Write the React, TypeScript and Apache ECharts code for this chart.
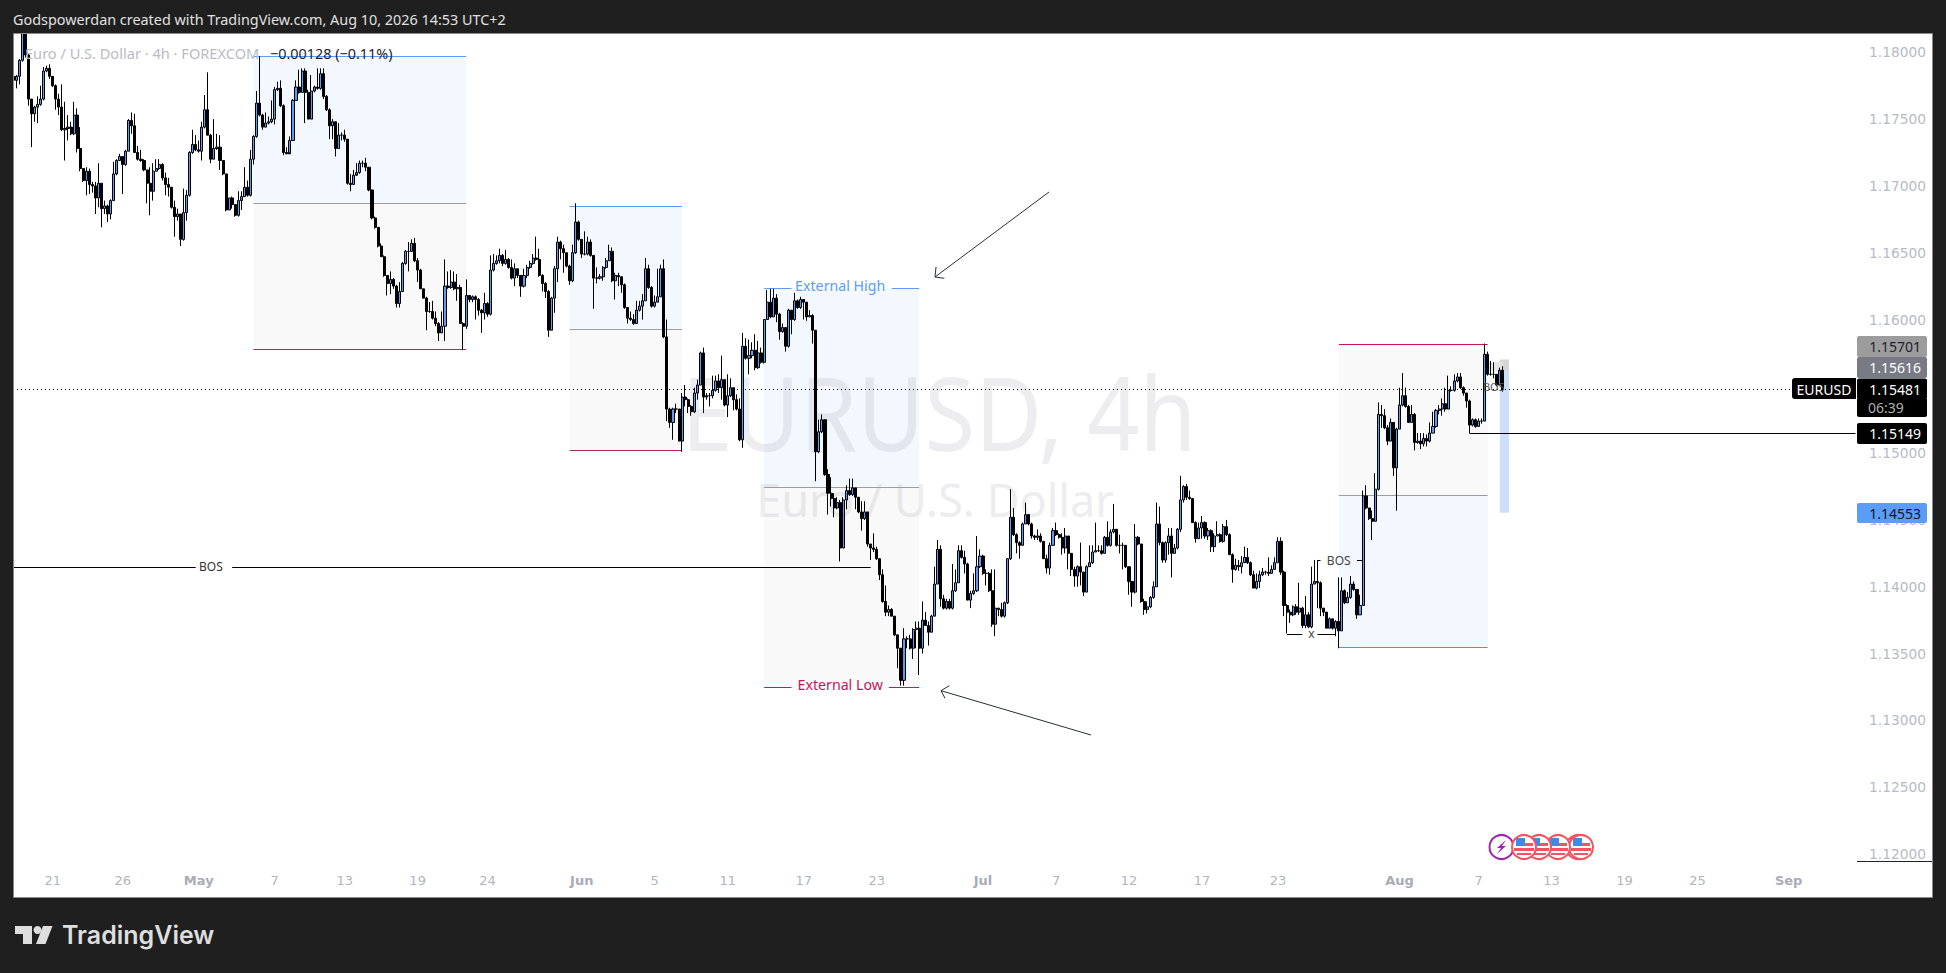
import React, { useEffect, useRef } from "react";
import * as echarts from "echarts";

// Prices below are in 1/10000 units (11548.1 = 1.15481)
const PRICE_UNIT = 10000;
const firstOpen = 11782;
const closes = [
11779,11782,11794,11818,11798,11765,11754,11759,11761,11765,
11786,11788,11782,11775,11765,11759,11742,11743,11744,11739,
11753,11728,11713,11704,11711,11701,11700,11691,11702,11683,
11685,11679,11689,11709,11719,11722,11716,11726,11749,11745,
11725,11720,11719,11712,11702,11696,11711,11713,11716,11706,
11701,11699,11684,11677,11679,11660,11680,11693,11725,11731,
11727,11726,11744,11757,11738,11720,11728,11729,11719,11709,
11682,11691,11686,11678,11689,11692,11699,11693,11720,11737,
11762,11753,11744,11747,11748,11750,11772,11773,11760,11725,
11724,11734,11764,11774,11770,11786,11770,11750,11771,11774,
11773,11784,11767,11757,11745,11748,11728,11738,11738,11735,
11702,11701,11708,11710,11717,11717,11714,11697,11676,11669,
11655,11647,11633,11627,11630,11625,11612,11621,11642,11651,
11651,11657,11644,11637,11623,11616,11606,11606,11601,11597,
11590,11595,11625,11624,11628,11623,11624,11597,11595,11618,
11615,11617,11615,11607,11605,11612,11604,11637,11642,11644,
11648,11642,11645,11639,11631,11638,11633,11625,11633,11639,
11642,11646,11645,11633,11627,11621,11592,11616,11638,11658,
11653,11650,11640,11629,11650,11673,11660,11649,11649,11658,
11648,11631,11631,11632,11639,11644,11651,11629,11633,11632,
11626,11609,11601,11600,11597,11607,11610,11614,11638,11624,
11610,11613,11617,11638,11587,11533,11523,11533,11533,11509,
11542,11540,11535,11531,11545,11551,11575,11542,11543,11543,
11547,11554,11549,11555,11536,11543,11549,11540,11533,11510,
11580,11571,11573,11577,11564,11575,11568,11600,11613,11602,
11616,11604,11591,11594,11580,11607,11600,11614,11609,11615,
11613,11602,11603,11592,11501,11516,11525,11484,11470,11466,
11459,11463,11429,11465,11472,11469,11474,11467,11456,11451,
11456,11432,11429,11428,11421,11409,11389,11381,11383,11378,
11364,11354,11330,11361,11361,11354,11368,11369,11354,11375,
11371,11366,11378,11402,11428,11391,11384,11389,11384,11397,
11403,11427,11422,11417,11390,11395,11397,11415,11423,11410,
11410,11397,11372,11384,11383,11378,11388,11421,11452,11439,
11433,11431,11447,11454,11447,11438,11437,11438,11434,11421,
11414,11431,11442,11439,11437,11429,11438,11425,11413,11408,
11415,11411,11396,11415,11418,11426,11427,11427,11425,11437,
11431,11441,11443,11431,11431,11431,11415,11404,11396,11437,
11432,11389,11383,11385,11392,11400,11447,11433,11420,11433,
11438,11425,11429,11443,11465,11475,11467,11466,11448,11436,
11444,11448,11438,11442,11430,11438,11439,11434,11445,11439,
11424,11413,11416,11415,11418,11422,11418,11409,11399,11404,
11409,11411,11411,11410,11413,11418,11434,11411,11386,11381,
11379,11385,11381,11384,11371,11379,11370,11402,11404,11403,
11384,11381,11369,11376,11369,11374,11367,11397,11388,11392,
11402,11398,11379,11386,11468,11459,11451,11449,11473,11529,
11528,11519,11509,11523,11489,11518,11536,11543,11535,11523,
11529,11508,11509,11507,11511,11509,11515,11520,11532,11533,
11537,11533,11547,11547,11554,11557,11549,11545,11539,11521,
11525,11520,11524,11524,11574,11559,11559,11559,11551,11562,
11548.1,
];
const highs = [
11783,11783,11795,11826,11826,11799,11765,11760,11767,11775,
11789,11790,11791,11782,11776,11769,11776,11763,11753,11748,
11763,11758,11744,11713,11714,11713,11703,11703,11717,11702,
11689,11686,11690,11718,11720,11724,11722,11727,11750,11755,
11754,11730,11727,11720,11712,11714,11717,11720,11720,11717,
11710,11706,11699,11689,11683,11679,11698,11697,11726,11742,
11738,11734,11748,11768,11785,11739,11750,11739,11738,11719,
11709,11691,11692,11686,11696,11696,11714,11704,11727,11738,
11771,11797,11754,11755,11752,11764,11774,11778,11779,11761,
11729,11737,11765,11779,11787,11788,11788,11772,11783,11775,
11788,11788,11788,11768,11758,11750,11747,11747,11740,11742,
11735,11709,11712,11717,11719,11719,11721,11712,11697,11677,
11669,11657,11648,11633,11636,11631,11626,11628,11643,11652,
11658,11660,11661,11646,11638,11623,11617,11613,11614,11606,
11598,11606,11645,11636,11637,11636,11634,11626,11598,11630,
11618,11618,11618,11616,11608,11620,11613,11648,11649,11648,
11653,11649,11652,11646,11645,11642,11638,11633,11638,11641,
11644,11649,11662,11653,11634,11628,11622,11617,11640,11662,
11659,11656,11650,11641,11656,11687,11674,11660,11666,11662,
11660,11648,11639,11634,11640,11646,11656,11654,11635,11635,
11629,11627,11609,11606,11604,11614,11614,11619,11646,11641,
11625,11618,11638,11641,11645,11600,11534,11534,11537,11532,
11545,11551,11541,11536,11549,11555,11576,11579,11545,11545,
11558,11558,11559,11573,11555,11559,11556,11549,11544,11541,
11590,11586,11585,11583,11589,11584,11579,11600,11622,11623,
11623,11619,11605,11597,11594,11608,11607,11620,11615,11617,
11615,11612,11607,11604,11592,11525,11529,11525,11488,11482,
11470,11467,11465,11467,11476,11481,11481,11474,11467,11464,
11464,11456,11432,11440,11430,11421,11413,11401,11386,11384,
11378,11364,11354,11369,11363,11364,11369,11374,11374,11389,
11381,11374,11379,11415,11435,11431,11394,11391,11391,11417,
11413,11431,11431,11427,11418,11397,11410,11438,11428,11424,
11413,11411,11413,11413,11384,11388,11389,11421,11473,11459,
11440,11434,11448,11463,11454,11448,11439,11443,11440,11434,
11424,11433,11444,11448,11440,11440,11444,11438,11425,11415,
11416,11433,11411,11416,11431,11431,11448,11431,11431,11438,
11449,11443,11462,11443,11439,11433,11431,11415,11404,11447,
11438,11432,11391,11389,11393,11404,11463,11460,11434,11434,
11444,11444,11432,11444,11483,11476,11477,11472,11466,11449,
11448,11453,11449,11444,11443,11440,11449,11440,11447,11450,
11440,11425,11421,11420,11423,11430,11429,11419,11412,11410,
11412,11414,11412,11422,11416,11422,11437,11437,11412,11387,
11383,11386,11387,11403,11385,11393,11381,11415,11420,11420,
11404,11384,11381,11377,11376,11375,11407,11407,11398,11396,
11408,11404,11398,11394,11472,11476,11459,11457,11485,11538,
11536,11533,11521,11526,11523,11519,11549,11560,11549,11536,
11536,11530,11515,11515,11515,11514,11523,11531,11533,11536,
11541,11549,11558,11550,11559,11560,11560,11550,11545,11540,
11526,11526,11526,11526,11582,11576,11569,11568,11559,11564,
11565,
];
const lows = [
11778,11773,11776,11793,11796,11760,11729,11748,11747,11760,
11764,11785,11780,11774,11757,11753,11741,11719,11734,11738,
11738,11725,11711,11703,11693,11694,11695,11679,11684,11669,
11679,11673,11675,11689,11708,11719,11694,11715,11726,11739,
11725,11719,11718,11711,11687,11678,11689,11711,11712,11704,
11693,11692,11683,11662,11674,11655,11659,11674,11692,11724,
11726,11725,11719,11743,11738,11717,11720,11727,11712,11708,
11681,11682,11683,11677,11677,11682,11692,11692,11692,11716,
11736,11752,11742,11744,11746,11747,11746,11771,11759,11723,
11724,11725,11734,11764,11769,11770,11747,11750,11750,11770,
11772,11772,11765,11756,11735,11735,11722,11728,11734,11733,
11701,11696,11701,11709,11709,11714,11711,11696,11675,11668,
11654,11647,11632,11618,11619,11623,11609,11609,11621,11641,
11636,11651,11643,11628,11623,11616,11592,11605,11600,11595,
11584,11590,11584,11623,11623,11622,11614,11597,11577,11593,
11613,11613,11600,11603,11590,11600,11602,11603,11636,11641,
11642,11640,11641,11638,11630,11625,11631,11617,11624,11631,
11638,11641,11644,11632,11621,11616,11587,11592,11605,11628,
11645,11635,11639,11626,11628,11649,11659,11646,11648,11648,
11647,11608,11627,11630,11629,11638,11644,11628,11615,11625,
11620,11608,11597,11599,11596,11597,11606,11600,11614,11623,
11609,11609,11613,11617,11586,11524,11519,11510,11530,11509,
11501,11535,11530,11528,11530,11540,11551,11530,11540,11535,
11541,11546,11545,11540,11535,11527,11542,11532,11532,11509,
11504,11570,11559,11571,11562,11563,11567,11567,11600,11601,
11602,11598,11585,11590,11576,11579,11589,11599,11608,11608,
11600,11599,11602,11582,11479,11500,11515,11483,11454,11460,
11452,11458,11419,11429,11458,11468,11468,11458,11455,11442,
11450,11430,11420,11426,11420,11405,11388,11378,11378,11378,
11363,11339,11326,11326,11354,11353,11346,11354,11334,11350,
11371,11356,11366,11378,11402,11385,11383,11383,11383,11383,
11396,11403,11421,11410,11390,11384,11394,11396,11414,11409,
11401,11396,11370,11363,11378,11377,11377,11387,11420,11438,
11425,11421,11431,11447,11446,11436,11435,11435,11433,11421,
11410,11409,11431,11438,11436,11424,11425,11413,11408,11400,
11400,11401,11393,11396,11415,11417,11426,11426,11424,11425,
11430,11430,11440,11430,11425,11413,11414,11394,11385,11395,
11431,11388,11379,11380,11384,11391,11400,11431,11418,11418,
11424,11407,11425,11428,11441,11463,11465,11465,11448,11433,
11436,11436,11436,11435,11426,11426,11438,11433,11433,11438,
11424,11403,11412,11412,11410,11418,11417,11408,11399,11398,
11399,11408,11409,11408,11410,11413,11418,11409,11378,11365,
11373,11378,11379,11379,11369,11369,11369,11369,11402,11384,
11378,11378,11369,11369,11368,11363,11354,11367,11387,11388,
11391,11397,11376,11379,11386,11458,11450,11435,11449,11472,
11519,11518,11506,11509,11483,11457,11518,11535,11534,11523,
11523,11502,11507,11503,11505,11505,11508,11515,11519,11529,
11528,11531,11535,11546,11546,11553,11548,11543,11534,11515,
11520,11519,11520,11522,11524,11558,11558,11556,11550,11551,
11546,
];

const timeTickIndex = [13,36,61,86,109,133,156,187,211,235,260,284,319,343,367,391,416,456,482,506,530,554,584];
const timeTickLabels = ["21","26","May","7","13","19","24","Jun","5","11","17","23","Jul","7","12","17","23","Aug","7","13","19","25","Sep"];
const monthLabels = ["May", "Jun", "Jul", "Aug", "Sep"];
const categoryCount = 607;

const BLUE_ZONE = "rgba(91,156,246,0.075)";
const GREY_ZONE = "rgba(120,123,134,0.048)";
// Filled zones: start, end, top price, bottom price, colour
const zoneStart = [79, 79, 183, 183, 247, 247, 436, 436, 489, 489, 489, 485];
const zoneEnd = [149, 149, 220, 220, 298, 298, 485, 485, 492, 492, 492, 490];
const zoneTop = [11797, 11687, 11685, 11593, 11623.5, 11475, 11582, 11469, 11570.1, 11561.6, 11561.6, 11568];
const zoneBottom = [11687, 11578, 11593, 11502, 11475, 11325, 11469, 11355, 11561.6, 11548.1, 11455.3, 11561.6];
const zoneFill = [BLUE_ZONE, GREY_ZONE, BLUE_ZONE, GREY_ZONE, BLUE_ZONE, GREY_ZONE, GREY_ZONE, BLUE_ZONE, "#d6d6d6", "#a9cdfa", "#cce0fb", "#e4e4e4"];

// Horizontal level lines: start, end, price, colour
const lineStart = [79, 79, 79, 183, 183, 183, 247, 289, 247, 247, 288, 436, 436, 436, 479, 0, 0, 72, 429, 442, 419, 429];
const lineEnd = [149, 149, 149, 220, 220, 220, 256, 298, 298, 256, 298, 485, 485, 485, 606, 585, 60, 282, 430, 444, 424, 435];
const linePrice = [11797, 11687, 11578, 11685, 11593, 11502, 11623.5, 11623.5, 11475, 11325, 11325, 11582, 11469, 11355, 11514.9, 11548.1, 11415, 11415, 11420, 11420, 11365, 11365];
const lineColor = ["#5b9cf6", "#9e9e9e", "#b2275f", "#5b9cf6", "#9e9e9e", "#b2275f", "#5b9cf6", "#5b9cf6", "#9e9e9e", "#c2185b", "#c2185b", "#c2185b", "#9e9e9e", "#5b8de0", "#000000", "#000000", "#000000", "#000000", "#000000", "#000000", "#000000", "#000000"];
const dottedLine = 15;

// Text annotations
const noteText = ["External High", "External Low", "BOS", "BOS", "x", "BOS"];
const noteIndex = [272, 272, 65, 436, 427, 487];
const notePrice = [11625.5, 11327, 11415, 11420, 11365, 11550];
const noteColor = ["#5b9cf6", "#c2185b", "#333333", "#444444", "#444444", "#555555"];
const noteSize = [14.2, 14.2, 12, 12, 12, 11];

const priceTagText = ["1.15701", "1.15616", "1.15481", "1.15149", "1.14553"];
const priceTagCenter = [346.5, 367.5, 389, 433.5, 513];
const priceTagHeight = [21, 21, 21, 21, 20];
const priceTagFill = ["#9c9c9c", "#787b86", "#000000", "#000000", "#5b9cf6"];
const priceTagInk = ["#1e222d", "#ffffff", "#ffffff", "#ffffff", "#131722"];

const FONT = '"Noto Sans", sans-serif';
const AXIS_FONT = '"DejaVu Sans", sans-serif';

export default function App() {
  const ref = useRef<HTMLDivElement | null>(null);
  useEffect(() => {
    if (!ref.current) return;
    const chart = echarts.init(ref.current, null, { renderer: "svg", width: 1946, height: 973 });
    const candles = closes.map((c, i) => [
      (i === 0 ? firstOpen : closes[i - 1]) / PRICE_UNIT,
      c / PRICE_UNIT,
      lows[i] / PRICE_UNIT,
      highs[i] / PRICE_UNIT,
    ]);
    const categories = Array.from({ length: categoryCount }, (_, i) => {
      const k = timeTickIndex.indexOf(i);
      return k >= 0 ? timeTickLabels[k] : "";
    });
    const dark = "#1f1f1f";
    const flags = [1578, 1581, 1558, 1539, 1524];
    const flagElements: any[] = [];
    flags.forEach((cx) => {
      const cy = 847;
      flagElements.push(
        { type: "circle", z: 40, shape: { cx, cy, r: 12 }, style: { fill: "#ffffff" } },
        { type: "rect", z: 40, shape: { x: cx - 8, y: cy - 9, width: 9, height: 8 }, style: { fill: "#3d8be8" } },
        { type: "rect", z: 40, shape: { x: cx + 1, y: cy - 4, width: 8, height: 3 }, style: { fill: "#f7525f" } },
        { type: "rect", z: 40, shape: { x: cx - 10, y: cy + 1, width: 20, height: 3 }, style: { fill: "#f7525f" } },
        { type: "rect", z: 40, shape: { x: cx - 7, y: cy + 6, width: 14, height: 2 }, style: { fill: "#f7525f" } },
        { type: "circle", z: 40, shape: { cx, cy, r: 12 }, style: { fill: "none", stroke: "#f7525f", lineWidth: 2 } }
      );
    });
    const tagElements: any[] = [];
    priceTagText.forEach((t, k) => {
      const h = priceTagHeight[k];
      tagElements.push(
        { type: "rect", z: 60, shape: { x: 1857, y: priceTagCenter[k] - h / 2, width: 70, height: h, r: 2 }, style: { fill: priceTagFill[k] } },
        { type: "text", z: 61, style: { text: t, x: 1921, y: priceTagCenter[k], align: "right", verticalAlign: "middle", fill: priceTagInk[k], font: `14px ${FONT}` } }
      );
    });
    chart.setOption({
      animation: false,
      backgroundColor: "transparent",
      grid: { left: 11.78, width: 1845.28, top: 0, height: 920.8, containLabel: false, show: false },
      xAxis: {
        type: "category",
        data: categories,
        boundaryGap: true,
        axisLine: { show: false },
        axisTick: { show: false },
        splitLine: { show: false },
        axisLabel: {
          show: true,
          inside: true,
          margin: 34,
          interval: (i: number) => timeTickIndex.indexOf(i) >= 0,
          hideOverlap: false,
          color: "#b2b5be",
          fontFamily: AXIS_FONT,
          fontSize: 13,
          formatter: (v: string) => (monthLabels.indexOf(v) >= 0 ? `{b|${v}}` : v),
          rich: { b: { fontWeight: "bold", color: "#a9acb6", fontFamily: AXIS_FONT, fontSize: 13 } },
        },
      },
      yAxis: {
        type: "value",
        position: "right",
        min: 1.115,
        max: 1.183914,
        interval: 0.005,
        axisLine: { show: false },
        axisTick: { show: false },
        splitLine: { show: false },
        axisLabel: {
          show: true,
          align: "right",
          margin: 69,
          color: "#b8bbc4",
          fontFamily: AXIS_FONT,
          fontSize: 13.8,
          showMinLabel: true,
          showMaxLabel: true,
          formatter: (v: number) => {
            const s = v.toFixed(5);
            const onTick = Math.abs(v * 200 - Math.round(v * 200)) < 1e-6;
            return !onTick || s === "1.11500" || s === "1.15500" ? "" : s;
          },
        },
      },
      series: [
        {
          type: "custom",
          name: "zones",
          z: 1,
          silent: true,
          data: zoneStart.map((s, k) => [s, zoneTop[k] / PRICE_UNIT]),
          renderItem: (p: any, api: any) => {
            const k = p.dataIndex;
            const a = api.coord([zoneStart[k], zoneTop[k] / PRICE_UNIT]);
            const b = api.coord([zoneEnd[k], zoneBottom[k] / PRICE_UNIT]);
            return { type: "rect", shape: { x: a[0], y: a[1], width: b[0] - a[0], height: b[1] - a[1] }, style: { fill: zoneFill[k] } };
          },
        },
        {
          type: "custom",
          name: "levels",
          z: 1.5,
          silent: true,
          data: lineStart.map((s, k) => [s, linePrice[k] / PRICE_UNIT]),
          renderItem: (p: any, api: any) => {
            const k = p.dataIndex;
            const a = api.coord([lineStart[k], linePrice[k] / PRICE_UNIT]);
            const b = api.coord([lineEnd[k], linePrice[k] / PRICE_UNIT]);
            const y = Math.round(a[1]) + 0.5;
            return {
              type: "line",
              shape: { x1: k >= 15 && k <= 16 ? 13 : a[0], y1: y, x2: b[0], y2: y },
              style: { stroke: lineColor[k], lineWidth: 1, lineDash: k === dottedLine ? [1, 3] : undefined },
            };
          },
        },
        {
          type: "candlestick",
          name: "EURUSD",
          z: 3,
          silent: true,
          barWidth: 2.6,
          data: candles,
          itemStyle: { color: "#5b9cf6", color0: "#000000", borderColor: "#000000", borderColor0: "#000000", borderColorDoji: "#000000", borderWidth: 1 },
        },
        {
          type: "custom",
          name: "notes",
          z: 4,
          silent: true,
          data: noteText.map((_, k) => [noteIndex[k], notePrice[k] / PRICE_UNIT]),
          renderItem: (p: any, api: any) => {
            const k = p.dataIndex;
            const a = api.coord([noteIndex[k], notePrice[k] / PRICE_UNIT]);
            return {
              type: "text",
              style: { text: noteText[k], x: a[0], y: a[1], align: "center", verticalAlign: "middle", fill: noteColor[k], font: `${noteSize[k]}px ${FONT}` },
            };
          },
        },
      ],
      graphic: {
        elements: [
          // watermark
          { type: "text", z: 0, x: 939, y: 411, scaleY: 1.12, style: { text: "EURUSD, 4h", x: 0, y: 0, align: "center", verticalAlign: "middle", fill: "#ededef", font: `92px ${FONT}` } },
          { type: "text", z: 0, style: { text: "Euro / U.S. Dollar", x: 935, y: 499, align: "center", verticalAlign: "middle", fill: "#ededef", font: `45px ${FONT}` } },
          // arrows
          { type: "line", z: 20, shape: { x1: 1049, y1: 192, x2: 935, y2: 277 }, style: { stroke: "#2a2e39", lineWidth: 1 } },
          { type: "polyline", z: 20, shape: { points: [[936, 267], [935, 277], [944.3, 278.3]] }, style: { stroke: "#2a2e39", lineWidth: 1, fill: "none" } },
          { type: "line", z: 20, shape: { x1: 1091, y1: 735, x2: 941, y2: 690.7 }, style: { stroke: "#2a2e39", lineWidth: 1 } },
          { type: "polyline", z: 20, shape: { points: [[949.3, 685.7], [941, 690.7], [945, 698.3]] }, style: { stroke: "#2a2e39", lineWidth: 1, fill: "none" } },
          // events
          { type: "circle", z: 39, shape: { cx: 1501.5, cy: 847, r: 12 }, style: { fill: "#ffffff", stroke: "#9c27b0", lineWidth: 2 } },
          { type: "polygon", z: 39, shape: { points: [[1506, 840], [1497, 848], [1501, 848], [1497, 854], [1506, 846], [1502, 846]] }, style: { fill: "#9c27b0" } },
          ...flagElements,
          // legend
          { type: "text", z: 50, style: { text: "Euro / U.S. Dollar · 4h · FOREXCOM", x: 25, y: 53, align: "left", verticalAlign: "middle", fill: "#b8bbc4", font: `14.6px ${FONT}` } },
          { type: "text", z: 50, style: { text: "−0.00128 (−0.11%)", x: 270, y: 53, align: "left", verticalAlign: "middle", fill: "#1e222d", font: `14.4px ${FONT}` } },
          // frame and surround
          { type: "rect", z: 100, shape: { x: 0, y: 0, width: 1946, height: 34 }, style: { fill: dark } },
          { type: "rect", z: 100, shape: { x: 0, y: 897, width: 1946, height: 76 }, style: { fill: dark } },
          { type: "rect", z: 100, shape: { x: 0, y: 0, width: 13, height: 973 }, style: { fill: dark } },
          { type: "rect", z: 100, shape: { x: 1933, y: 0, width: 13, height: 973 }, style: { fill: dark } },
          { type: "rect", z: 101, shape: { x: 13.5, y: 33.5, width: 1919, height: 864 }, style: { fill: "none", stroke: "#8a8a8a", lineWidth: 1 } },
          { type: "line", z: 60, shape: { x1: 1857, y1: 861.5, x2: 1932, y2: 861.5 }, style: { stroke: "#1e222d", lineWidth: 1 } },
          // price tags
          ...tagElements,
          { type: "rect", z: 60, shape: { x: 1857, y: 399, width: 70, height: 18, r: [0, 0, 2, 2] }, style: { fill: "#000000" } },
          { type: "text", z: 61, style: { text: "06:39", x: 1868, y: 407, align: "left", verticalAlign: "middle", fill: "#b0b0b0", font: `14px ${FONT}` } },
          { type: "rect", z: 60, shape: { x: 1792, y: 378, width: 64, height: 21, r: [3, 0, 0, 3] }, style: { fill: "#000000" } },
          { type: "text", z: 61, style: { text: "EURUSD", x: 1824, y: 389, align: "center", verticalAlign: "middle", fill: "#ffffff", font: `14px ${FONT}` } },
          // header and footer
          { type: "text", z: 110, style: { text: "Godspowerdan created with TradingView.com, Aug 10, 2026 14:53 UTC+2", x: 13, y: 19.5, align: "left", verticalAlign: "middle", fill: "#e0e0e0", font: `14.4px ${FONT}` } },
          { type: "polygon", z: 110, shape: { points: [[15, 926], [32, 926], [32, 944], [23, 944], [23, 934], [15, 934]] }, style: { fill: "#dedede" } },
          { type: "circle", z: 110, shape: { cx: 37.5, cy: 930, r: 4 }, style: { fill: "#dedede" } },
          { type: "polygon", z: 110, shape: { points: [[43, 926], [52.5, 926], [45.5, 944], [36, 944]] }, style: { fill: "#dedede" } },
          { type: "text", z: 110, style: { text: "TradingView", x: 62, y: 935, align: "left", verticalAlign: "middle", fill: "#dedede", font: `600 25px Inter, ${FONT}` } },
        ],
      },
    });
    return () => chart.dispose();
  }, []);
  return (
    <div style={{ position: "fixed", left: 0, top: 0, width: 1946, height: 973, background: "#ffffff" }}>
      <div ref={ref} style={{ width: 1946, height: 973 }} />
    </div>
  );
}
